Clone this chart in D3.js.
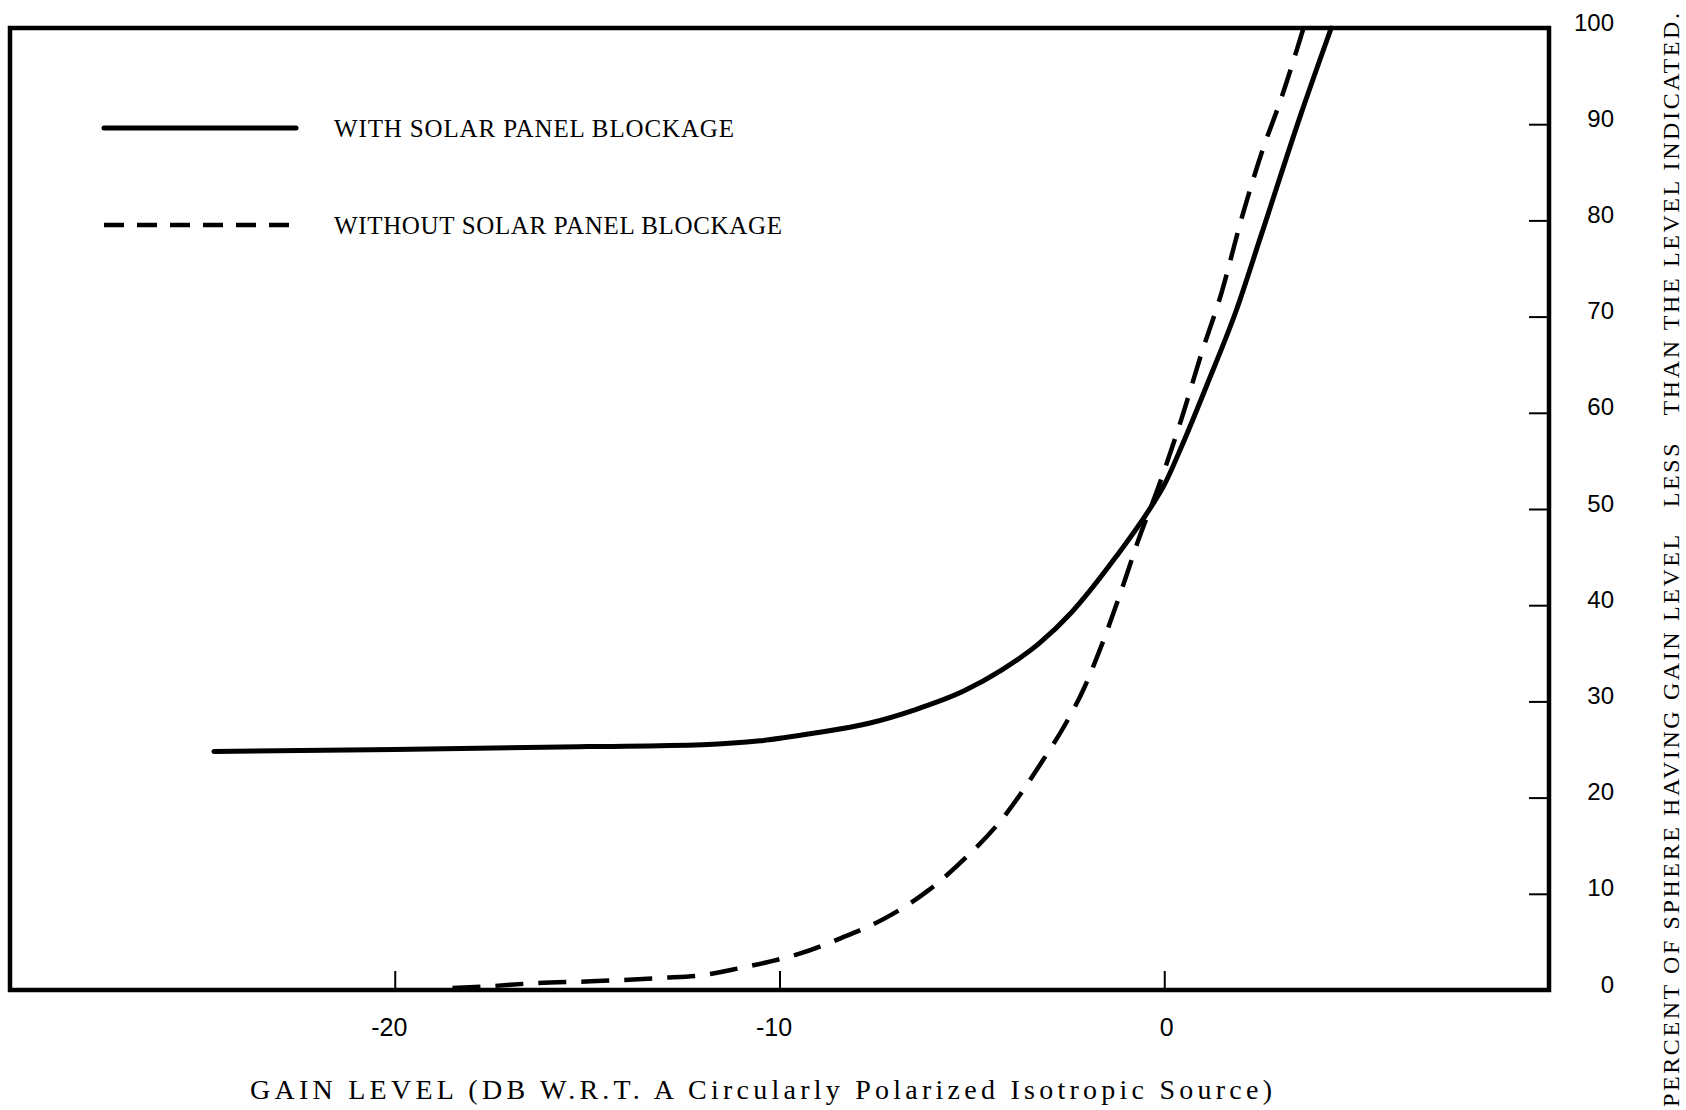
<!DOCTYPE html>
<html>
<head>
<meta charset="utf-8">
<script src="https://cdn.jsdelivr.net/npm/d3@7"></script>
<style>
  html, body { margin: 0; padding: 0; background: #fff; }
  svg { display: block; }
</style>
</head>
<body>
<svg id="chart" width="1686" height="1110"></svg>
<script>
// ---- data ----
const withBlockageX = [-24.7, -20, -15, -12, -10.5, -9.1, -7.7, -6.5, -5.2, -4.25, -3.26, -2.4, -1.26, -0.33, 0, 0.45, 1.15, 1.85, 2.53, 3.57, 4.34];
const withBlockageY = [24.8, 25.0, 25.3, 25.5, 25.9, 26.7, 27.7, 29.1, 31.1, 33.2, 36.0, 39.3, 45.0, 50.3, 52.5, 56.5, 63.3, 70.4, 78.6, 91.25, 100];

const withoutBlockageX = [-18.5, -17.5, -16.4, -14.9, -13.1, -11.9, -11.0, -10.2, -9.5, -8.4, -7.24, -6.15, -5.16, -4.25, -3.15, -2.56, -2.07, -1.68, -1.1, -0.67, -0.15, 0.45, 0.97, 1.49, 2.01, 2.53, 3.05, 3.62];
const withoutBlockageY = [0.2, 0.4, 0.7, 0.9, 1.25, 1.6, 2.3, 3.0, 3.75, 5.4, 7.5, 10.3, 13.75, 17.6, 23.9, 27.7, 31.5, 35.3, 41.7, 46.8, 52.3, 59.4, 66.2, 72.5, 80.2, 87.0, 92.8, 100];

const xTicks = [-20, -10, 0];
const yTicks = [0, 10, 20, 30, 40, 50, 60, 70, 80, 90, 100];

const seriesNames = ["WITH SOLAR PANEL BLOCKAGE", "WITHOUT SOLAR PANEL BLOCKAGE"];
const xTitle = "GAIN LEVEL (DB W.R.T. A Circularly Polarized Isotropic Source)";
const yTitle = "PERCENT OF SPHERE HAVING GAIN LEVEL   LESS   THAN THE LEVEL INDICATED.";

// ---- layout ----
const svg = d3.select("#chart");
const pLeft = 10, pRight = 1549, pTop = 28, pBottom = 990;
const x = d3.scaleLinear().domain([-30, 10]).range([pLeft, pRight]);
const y = d3.scaleLinear().domain([0, 100]).range([pBottom, pTop]);

const serif = "'Liberation Serif', 'DejaVu Serif', serif";
const sans = "'Liberation Sans', Arial, sans-serif";

// frame
svg.append("rect")
  .attr("x", pLeft).attr("y", pTop)
  .attr("width", pRight - pLeft).attr("height", pBottom - pTop)
  .attr("fill", "none").attr("stroke", "#000").attr("stroke-width", 4.5);

// right axis (ticks inward)
const yAxis = svg.append("g")
  .attr("transform", `translate(${pRight},0)`)
  .call(d3.axisRight(y).tickValues(yTicks).tickSize(-20).tickPadding(0).tickFormat(d3.format("d")));
yAxis.select(".domain").remove();
yAxis.selectAll(".tick line").attr("stroke", "#000").attr("stroke-width", 2);
yAxis.selectAll(".tick text")
  .attr("x", 65).attr("dy", "0.0em").attr("y", 2)
  .attr("text-anchor", "end")
  .attr("font-family", sans).attr("font-size", 24).attr("fill", "#000");

// bottom axis (ticks inward)
const xAxis = svg.append("g")
  .attr("transform", `translate(0,${pBottom})`)
  .call(d3.axisBottom(x).tickValues(xTicks).tickSize(-19).tickPadding(0).tickFormat(d => d < 0 ? "-" + Math.abs(d) : String(d)));
xAxis.select(".domain").remove();
xAxis.selectAll(".tick line").attr("stroke", "#000").attr("stroke-width", 2);
xAxis.selectAll(".tick text")
  .attr("y", 37).attr("dy", "0.35em")
  .attr("dx", d => d < 0 ? -6 : 2)
  .attr("font-family", sans).attr("font-size", 25).attr("fill", "#000");

// curves
const line = d3.line().x(d => x(d[0])).y(d => y(d[1])).curve(d3.curveMonotoneX);
const solidData = withBlockageX.map((v, i) => [v, withBlockageY[i]]);
const dashedData = withoutBlockageX.map((v, i) => [v, withoutBlockageY[i]]);

svg.append("path").datum(solidData)
  .attr("d", line).attr("fill", "none").attr("stroke", "#000")
  .attr("stroke-width", 5).attr("stroke-linecap", "round");

svg.append("path").datum(dashedData)
  .attr("d", line).attr("fill", "none").attr("stroke", "#000")
  .attr("stroke-width", 4.5).attr("stroke-dasharray", "28,15");

// legend
const legend = svg.append("g");
legend.append("line").attr("x1", 104).attr("x2", 296).attr("y1", 128).attr("y2", 128)
  .attr("stroke", "#000").attr("stroke-width", 5).attr("stroke-linecap", "round");
legend.append("line").attr("x1", 104).attr("x2", 290).attr("y1", 225).attr("y2", 225)
  .attr("stroke", "#000").attr("stroke-width", 4.5).attr("stroke-dasharray", "20,13");
const legendWidths = [400, 448];
legend.selectAll("text.leg").data(seriesNames).enter().append("text")
  .attr("class", "leg")
  .attr("x", 334).attr("y", (d, i) => 137 + i * 97)
  .attr("font-family", serif).attr("font-size", 25).attr("fill", "#000")
  .attr("textLength", (d, i) => legendWidths[i]).attr("lengthAdjust", "spacing")
  .text(d => d);

// x title
svg.append("text")
  .attr("x", 250).attr("y", 1099)
  .attr("font-family", serif).attr("font-size", 28).attr("fill", "#000")
  .attr("textLength", 1022).attr("lengthAdjust", "spacing")
  .style("white-space", "pre")
  .text(xTitle);

// right title (vertical)
svg.append("text")
  .attr("transform", "translate(1679,1107) rotate(-90)")
  .attr("x", 0).attr("y", 0)
  .attr("font-family", serif).attr("font-size", 24).attr("fill", "#000")
  .attr("textLength", 1094).attr("lengthAdjust", "spacing")
  .style("white-space", "pre")
  .text(yTitle);
</script>
</body>
</html>
